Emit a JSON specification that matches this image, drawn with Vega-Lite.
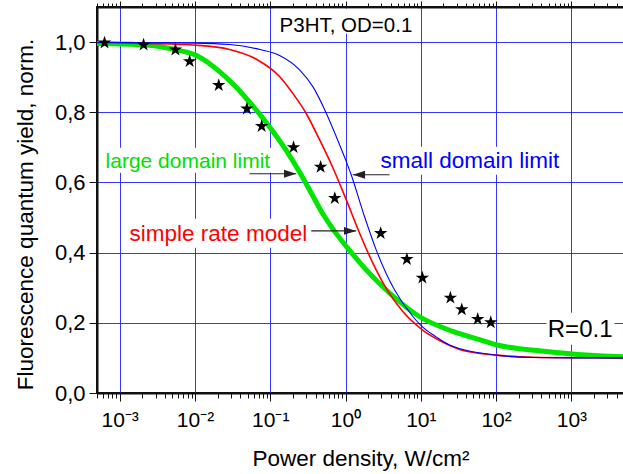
{
  "$schema": "https://vega.github.io/schema/vega-lite/v6.json",
  "width": 527,
  "height": 386,
  "autosize": {"type": "none"},
  "padding": {"left": 97, "top": 7, "right": 0, "bottom": 81},
  "background": "white",
  "config": {
    "font": "Liberation Sans",
    "view": {"stroke": "#111111", "strokeWidth": 2},
    "axis": {
      "labelFont": "Liberation Sans",
      "titleFont": "Liberation Sans",
      "labelColor": "black",
      "titleColor": "black",
      "titleFontWeight": "normal",
      "domainColor": "#111111",
      "domainWidth": 2,
      "tickColor": "#111111",
      "tickWidth": 1,
      "gridColor": "#2020ff",
      "gridWidth": 1
    }
  },
  "datasets": {
    "curves": [
      {"model": "large", "x": 0.0005, "y": 0.996},
      {"model": "large", "x": 0.00224, "y": 0.992},
      {"model": "large", "x": 0.00562, "y": 0.978},
      {"model": "large", "x": 0.01047, "y": 0.962},
      {"model": "large", "x": 0.02123, "y": 0.916},
      {"model": "large", "x": 0.03184, "y": 0.881},
      {"model": "large", "x": 0.04786, "y": 0.84},
      {"model": "large", "x": 0.08851, "y": 0.771},
      {"model": "large", "x": 0.1622, "y": 0.692},
      {"model": "large", "x": 0.257, "y": 0.622},
      {"model": "large", "x": 0.3548, "y": 0.568},
      {"model": "large", "x": 0.5012, "y": 0.51},
      {"model": "large", "x": 0.7079, "y": 0.462},
      {"model": "large", "x": 1.023, "y": 0.418},
      {"model": "large", "x": 1.884, "y": 0.351},
      {"model": "large", "x": 3.837, "y": 0.285},
      {"model": "large", "x": 9.55, "y": 0.218},
      {"model": "large", "x": 26.61, "y": 0.1755},
      {"model": "large", "x": 60.26, "y": 0.152},
      {"model": "large", "x": 100, "y": 0.1376},
      {"model": "large", "x": 462.4, "y": 0.1185},
      {"model": "large", "x": 2344, "y": 0.106},
      {"model": "large", "x": 5000, "y": 0.103},
      {"model": "simple", "x": 0.0005, "y": 0.999},
      {"model": "simple", "x": 0.00224, "y": 0.996},
      {"model": "simple", "x": 0.01047, "y": 0.991},
      {"model": "simple", "x": 0.02884, "y": 0.979},
      {"model": "simple", "x": 0.06457, "y": 0.952},
      {"model": "simple", "x": 0.133, "y": 0.902},
      {"model": "simple", "x": 0.1977, "y": 0.855},
      {"model": "simple", "x": 0.2979, "y": 0.798},
      {"model": "simple", "x": 0.4519, "y": 0.722},
      {"model": "simple", "x": 0.6792, "y": 0.642},
      {"model": "simple", "x": 1.021, "y": 0.551},
      {"model": "simple", "x": 1.535, "y": 0.456},
      {"model": "simple", "x": 2.307, "y": 0.370},
      {"model": "simple", "x": 3.467, "y": 0.298},
      {"model": "simple", "x": 5.768, "y": 0.232},
      {"model": "simple", "x": 10.47, "y": 0.18},
      {"model": "simple", "x": 21.38, "y": 0.141},
      {"model": "simple", "x": 32.66, "y": 0.124},
      {"model": "simple", "x": 100, "y": 0.108},
      {"model": "simple", "x": 316.2, "y": 0.102},
      {"model": "simple", "x": 1000, "y": 0.1005},
      {"model": "simple", "x": 5000, "y": 0.1},
      {"model": "small", "x": 0.0005, "y": 0.999},
      {"model": "small", "x": 0.01, "y": 0.997},
      {"model": "small", "x": 0.02884, "y": 0.993},
      {"model": "small", "x": 0.07586, "y": 0.978},
      {"model": "small", "x": 0.133, "y": 0.962},
      {"model": "small", "x": 0.2455, "y": 0.921},
      {"model": "small", "x": 0.3681, "y": 0.873},
      {"model": "small", "x": 0.5534, "y": 0.798},
      {"model": "small", "x": 0.7516, "y": 0.731},
      {"model": "small", "x": 1.021, "y": 0.66},
      {"model": "small", "x": 1.189, "y": 0.622},
      {"model": "small", "x": 1.786, "y": 0.503},
      {"model": "small", "x": 2.553, "y": 0.408},
      {"model": "small", "x": 4.467, "y": 0.294},
      {"model": "small", "x": 7.834, "y": 0.218},
      {"model": "small", "x": 10, "y": 0.193},
      {"model": "small", "x": 16, "y": 0.16},
      {"model": "small", "x": 24, "y": 0.137},
      {"model": "small", "x": 100, "y": 0.108},
      {"model": "small", "x": 316.2, "y": 0.101},
      {"model": "small", "x": 1000, "y": 0.1},
      {"model": "small", "x": 5000, "y": 0.1}
    ],
    "stars": [
      {"x": 0.00063, "y": 1.0},
      {"x": 0.00208, "y": 0.994},
      {"x": 0.0055, "y": 0.98},
      {"x": 0.0085, "y": 0.947},
      {"x": 0.0207, "y": 0.879},
      {"x": 0.049, "y": 0.812},
      {"x": 0.077, "y": 0.762},
      {"x": 0.204, "y": 0.702},
      {"x": 0.467, "y": 0.646},
      {"x": 0.72, "y": 0.557},
      {"x": 2.93, "y": 0.457},
      {"x": 6.53, "y": 0.383},
      {"x": 10.5, "y": 0.33},
      {"x": 24.7, "y": 0.273},
      {"x": 35, "y": 0.24},
      {"x": 57, "y": 0.2125},
      {"x": 85, "y": 0.203}
    ],
    "arrows": [
      {"x": 0.0531, "tip": 0.2214, "y": 0.625, "dir": "right"},
      {"x": 3.84, "tip": 1.25, "y": 0.622, "dir": "left"},
      {"x": 0.351, "tip": 1.387, "y": 0.462, "dir": "right"}
    ],
    "boxes": [
      {"x": 0.1074, "x2": 9.04, "y": 1.0236, "y2": 1.095},
      {"x": 0.000593, "x2": 0.104, "y": 0.6276, "y2": 0.6989},
      {"x": 2.83, "x2": 762, "y": 0.6219, "y2": 0.7017},
      {"x": 0.001235, "x2": 0.3535, "y": 0.414, "y2": 0.4966},
      {"x": 467, "x2": 3735, "y": 0.1376, "y2": 0.2288}
    ],
    "labels": [
      {"id": "od", "text": "P3HT, OD=0.1", "x": 0.133, "y": 1.03},
      {"id": "large", "text": "large domain limit", "x": 0.00065, "y": 0.642},
      {"id": "small", "text": "small domain limit", "x": 2.92, "y": 0.642},
      {"id": "simple", "text": "simple rate model", "x": 0.001355, "y": 0.4325},
      {"id": "r", "text": "R=0.1", "x": 486, "y": 0.1595}
    ]
  },
  "layer": [
    {
      "data": {"name": "boxes"},
      "mark": {"type": "rect", "fill": "white", "stroke": null},
      "encoding": {
        "x": {
          "field": "x", "type": "quantitative",
          "scale": {"type": "log", "domain": [0.0005, 5000], "nice": false},
          "axis": {
            "orient": "bottom",
            "title": "Power density, W/cm²",
            "titleFontSize": 22.5,
            "titleBaseline": "alphabetic",
            "titleY": 72,
            "values": [0.0005,0.0006,0.0007,0.0008,0.0009,0.001,0.002,0.003,0.004,0.005,0.006,0.007,0.008,0.009,0.01,0.02,0.03,0.04,0.05,0.06,0.07,0.08,0.09,0.1,0.2,0.3,0.4,0.5,0.6,0.7,0.8,0.9,1,2,3,4,5,6,7,8,9,10,20,30,40,50,60,70,80,90,100,200,300,400,500,600,700,800,900,1000,2000,3000,4000,5000],
            "labelExpr": "abs(log(datum.value)/LN10 - round(log(datum.value)/LN10)) < 0.000001 ? '10' + ['⁻³','⁻²','⁻¹','⁰','¹','²','³'][round(log(datum.value)/LN10)+3] : ''",
            "labelFontSize": 21,
            "labelPadding": 8,
            "labelOverlap": false,
            "labelFlush": false,
            "tickSize": {"condition": {"test": "abs(log(datum.value)/LN10 - round(log(datum.value)/LN10)) > 0.000001", "value": 5}, "value": 8},
            "grid": true,
            "gridOpacity": {"condition": {"test": "abs(log(datum.value)/LN10 - round(log(datum.value)/LN10)) > 0.000001", "value": 0}, "value": 0.9}
          }
        },
        "x2": {"field": "x2"},
        "y": {
          "field": "y", "type": "quantitative",
          "scale": {"domain": [0, 1.1], "nice": false, "zero": false},
          "axis": {
            "title": "Fluorescence quantum yield, norm.",
            "titleFontSize": 22.5,
            "titleBaseline": "alphabetic",
            "titleX": -65,
            "titleY": 207,
            "values": [0, 0.1, 0.2, 0.3, 0.4, 0.5, 0.6, 0.7, 0.8, 0.9, 1.0],
            "labelExpr": "abs(datum.value*5 - round(datum.value*5)) < 0.001 ? replace(format(datum.value, '.1f'), '.', ',') : ''",
            "labelFontSize": 22,
            "labelPadding": 4,
            "tickSize": {"condition": {"test": "abs(datum.value*5 - round(datum.value*5)) > 0.001", "value": 4}, "value": 8},
            "grid": true,
            "gridDash": {"condition": {"test": "abs(datum.value*5 - round(datum.value*5)) > 0.001", "value": [2, 4]}, "value": []},
            "gridOpacity": 0.9
          }
        },
        "y2": {"field": "y2"}
      }
    },
    {
      "data": {"name": "curves"},
      "transform": [{"filter": "datum.model === 'large'"}],
      "mark": {"type": "line", "color": "#00e600", "strokeWidth": 5, "interpolate": "monotone"},
      "encoding": {
        "x": {"field": "x", "type": "quantitative", "scale": {"type": "log", "domain": [0.0005, 5000], "nice": false}, "axis": null},
        "y": {"field": "y", "type": "quantitative", "scale": {"domain": [0, 1.1], "nice": false, "zero": false}}
      }
    },
    {
      "data": {"name": "curves"},
      "transform": [{"filter": "datum.model === 'simple'"}],
      "mark": {"type": "line", "color": "#ff0000", "strokeWidth": 1.6, "interpolate": "monotone"},
      "encoding": {
        "x": {"field": "x", "type": "quantitative", "scale": {"type": "log", "domain": [0.0005, 5000], "nice": false}, "axis": null},
        "y": {"field": "y", "type": "quantitative", "scale": {"domain": [0, 1.1], "nice": false, "zero": false}}
      }
    },
    {
      "data": {"name": "curves"},
      "transform": [{"filter": "datum.model === 'small'"}],
      "mark": {"type": "line", "color": "#0000ff", "strokeWidth": 1.1, "interpolate": "monotone"},
      "encoding": {
        "x": {"field": "x", "type": "quantitative", "scale": {"type": "log", "domain": [0.0005, 5000], "nice": false}, "axis": null},
        "y": {"field": "y", "type": "quantitative", "scale": {"domain": [0, 1.1], "nice": false, "zero": false}}
      }
    },
    {
      "data": {"name": "stars"},
      "mark": {"type": "point", "shape": "M0,-0.905L0.225,-0.214L0.951,-0.214L0.363,0.214L0.588,0.905L0,0.478L-0.588,0.905L-0.363,0.214L-0.951,-0.214L-0.225,-0.214Z", "filled": true, "color": "black", "opacity": 1, "size": 200},
      "encoding": {
        "x": {
          "field": "x", "type": "quantitative",
          "scale": {"type": "log", "domain": [0.0005, 5000], "nice": false},
          "axis": {
            "orient": "top",
            "title": null,
            "labels": false,
            "grid": false,
            "values": [0.0005,0.0006,0.0007,0.0008,0.0009,0.001,0.002,0.003,0.004,0.005,0.006,0.007,0.008,0.009,0.01,0.02,0.03,0.04,0.05,0.06,0.07,0.08,0.09,0.1,0.2,0.3,0.4,0.5,0.6,0.7,0.8,0.9,1,2,3,4,5,6,7,8,9,10,20,30,40,50,60,70,80,90,100,200,300,400,500,600,700,800,900,1000,2000,3000,4000,5000],
            "tickSize": {"condition": {"test": "abs(log(datum.value)/LN10 - round(log(datum.value)/LN10)) > 0.000001", "value": 4}, "value": 6}
          }
        },
        "y": {"field": "y", "type": "quantitative", "scale": {"domain": [0, 1.1], "nice": false, "zero": false}}
      }
    },
    {
      "data": {"name": "arrows"},
      "mark": {"type": "rule", "color": "#222222", "strokeWidth": 1.1},
      "encoding": {
        "x": {"field": "x", "type": "quantitative", "scale": {"type": "log", "domain": [0.0005, 5000], "nice": false}, "axis": null},
        "x2": {"field": "tip"},
        "y": {"field": "y", "type": "quantitative", "scale": {"domain": [0, 1.1], "nice": false, "zero": false}}
      }
    },
    {
      "data": {"name": "arrows"},
      "mark": {"type": "point", "filled": true, "color": "#222222", "opacity": 1, "size": 150},
      "encoding": {
        "x": {"field": "tip", "type": "quantitative", "scale": {"type": "log", "domain": [0.0005, 5000], "nice": false}, "axis": null},
        "y": {"field": "y", "type": "quantitative", "scale": {"domain": [0, 1.1], "nice": false, "zero": false}},
        "shape": {"field": "dir", "type": "nominal", "scale": {"domain": ["right", "left"], "range": ["M0,0L-2,-0.65L-2,0.65Z", "M0,0L2,-0.65L2,0.65Z"]}, "legend": null}
      }
    },
    {
      "data": {"name": "labels"},
      "transform": [{"filter": "datum.id === 'od'"}],
      "mark": {"type": "text", "align": "left", "baseline": "alphabetic", "fontSize": 20.5, "color": "black", "font": "Liberation Sans"},
      "encoding": {
        "x": {"field": "x", "type": "quantitative", "scale": {"type": "log", "domain": [0.0005, 5000], "nice": false}, "axis": null},
        "y": {"field": "y", "type": "quantitative", "scale": {"domain": [0, 1.1], "nice": false, "zero": false}},
        "text": {"field": "text"}
      }
    },
    {
      "data": {"name": "labels"},
      "transform": [{"filter": "datum.id === 'large'"}],
      "mark": {"type": "text", "align": "left", "baseline": "alphabetic", "fontSize": 21, "color": "#00e000", "font": "Liberation Sans"},
      "encoding": {
        "x": {"field": "x", "type": "quantitative", "scale": {"type": "log", "domain": [0.0005, 5000], "nice": false}, "axis": null},
        "y": {"field": "y", "type": "quantitative", "scale": {"domain": [0, 1.1], "nice": false, "zero": false}},
        "text": {"field": "text"}
      }
    },
    {
      "data": {"name": "labels"},
      "transform": [{"filter": "datum.id === 'small'"}],
      "mark": {"type": "text", "align": "left", "baseline": "alphabetic", "fontSize": 22.5, "color": "#0000ff", "font": "Liberation Sans"},
      "encoding": {
        "x": {"field": "x", "type": "quantitative", "scale": {"type": "log", "domain": [0.0005, 5000], "nice": false}, "axis": null},
        "y": {"field": "y", "type": "quantitative", "scale": {"domain": [0, 1.1], "nice": false, "zero": false}},
        "text": {"field": "text"}
      }
    },
    {
      "data": {"name": "labels"},
      "transform": [{"filter": "datum.id === 'simple'"}],
      "mark": {"type": "text", "align": "left", "baseline": "alphabetic", "fontSize": 22.5, "color": "#ff0000", "font": "Liberation Sans"},
      "encoding": {
        "x": {"field": "x", "type": "quantitative", "scale": {"type": "log", "domain": [0.0005, 5000], "nice": false}, "axis": null},
        "y": {"field": "y", "type": "quantitative", "scale": {"domain": [0, 1.1], "nice": false, "zero": false}},
        "text": {"field": "text"}
      }
    },
    {
      "data": {"name": "labels"},
      "transform": [{"filter": "datum.id === 'r'"}],
      "mark": {"type": "text", "align": "left", "baseline": "alphabetic", "fontSize": 24, "color": "black", "font": "Liberation Sans"},
      "encoding": {
        "x": {"field": "x", "type": "quantitative", "scale": {"type": "log", "domain": [0.0005, 5000], "nice": false}, "axis": null},
        "y": {"field": "y", "type": "quantitative", "scale": {"domain": [0, 1.1], "nice": false, "zero": false}},
        "text": {"field": "text"}
      }
    }
  ],
  "resolve": {"axis": {"x": "independent"}}
}
